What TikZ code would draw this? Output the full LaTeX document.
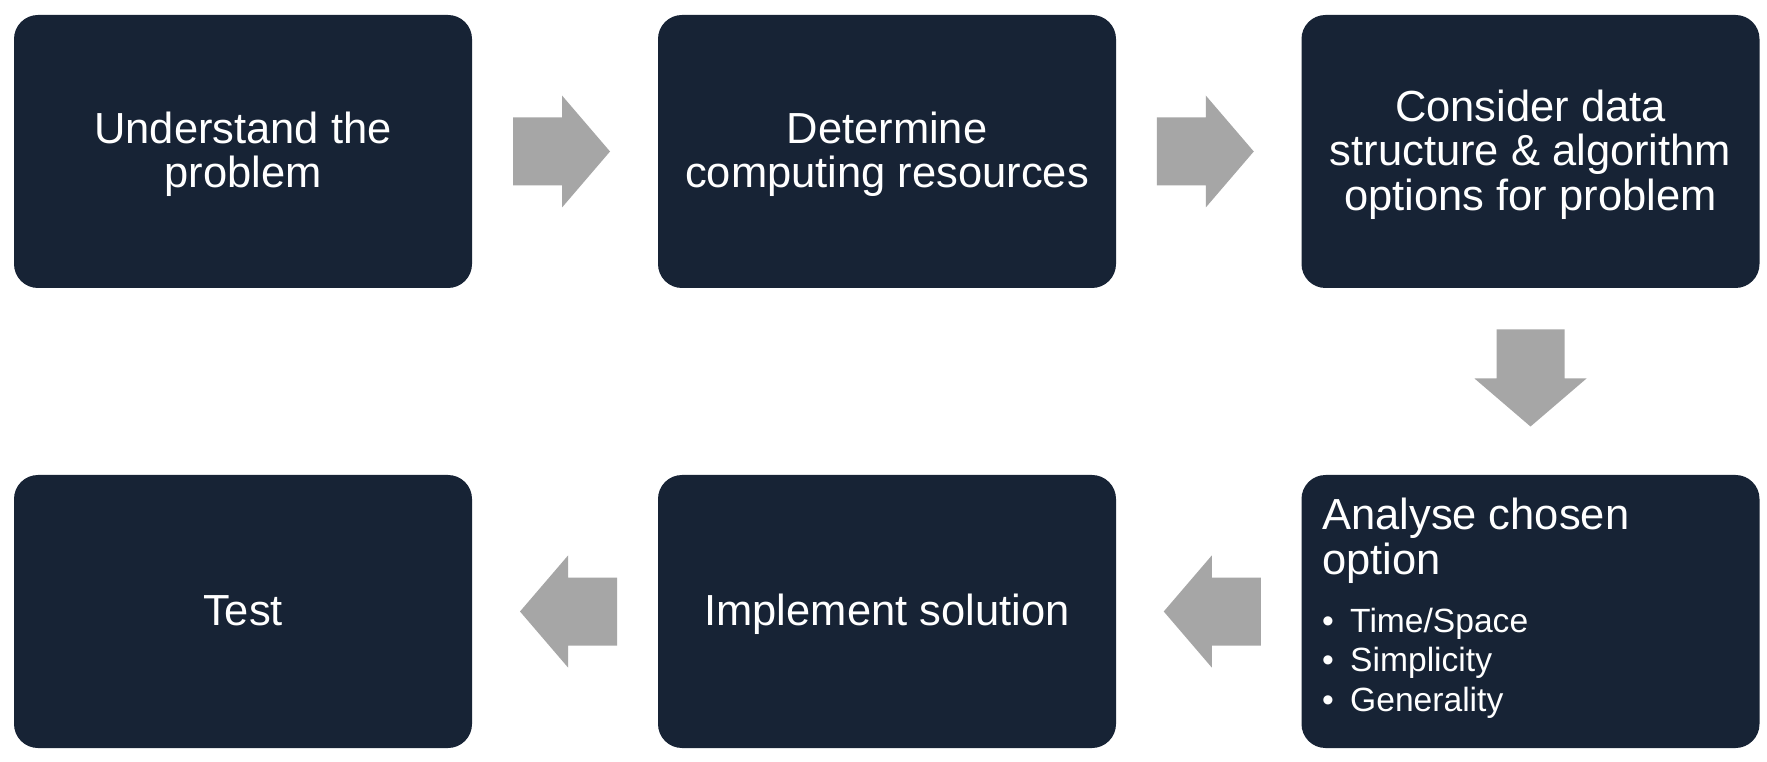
\documentclass[tikz,border=0pt]{standalone}
\usepackage{fontspec}
\setmainfont{Liberation Sans}
\usetikzlibrary{calc}
\definecolor{boxnavy}{HTML}{172335}
\definecolor{arrowgray}{HTML}{A6A6A6}
\newcommand\boxfont{\fontsize{43.5}{44.5}\selectfont}
\newcommand\bulletfont{\fontsize{33.6}{39}\selectfont}
\tikzset{
  stepbox/.style={fill=boxnavy, rounded corners=24pt, minimum width=458pt,
    minimum height=273pt, inner sep=0pt},
  boxtext/.style={text=white, inner sep=0pt, align=center, font=\boxfont, yshift=-3pt},
  linetext/.style={text=white, inner sep=0pt, anchor=base west, font=\boxfont},
  subtext/.style={text=white, inner sep=0pt, anchor=base west, font=\bulletfont},
  dottext/.style={text=white, inner sep=0pt, anchor=base, font=\bulletfont},
  blockarrow/.pic={\fill[arrowgray] (-52,-34) -- (-3,-34) -- (-3,-56) -- (45,0)
    -- (-3,56) -- (-3,34) -- (-52,34) -- cycle;},
}
\begin{document}
\begin{tikzpicture}[x=1pt,y=1pt]
\fill[white] (0,0) rectangle (1767,761);
\useasboundingbox (0,0) rectangle (1767,761);

\node[stepbox, label={[boxtext]center:Understand the\\problem}] (b1) at (243,609.5) {};
\node[stepbox, label={[boxtext]center:Determine\\computing resources}] (b2) at (887,609.5) {};
\node[stepbox, label={[boxtext]center:Consider data\\structure \& algorithm\\options for problem}] (b3) at (1530.5,609.5) {};
\node[stepbox] (b5) at (1530.5,149.5) {};
\node[stepbox, label={[boxtext]center:Implement solution}] (b4) at (887,149.5) {};
\node[stepbox, label={[boxtext, yshift=3.5pt]center:Test}] (b6) at (243,149.5) {};

\node[linetext] (a1) at (1322,231) {Analyse chosen};
\node[linetext] (a2) at (1322,186) {option};
\node[dottext] (d1) at (1328,129) {•};
\node[subtext] (s1) at (1350,129) {Time/Space};
\node[dottext] (d2) at (1328,90) {•};
\node[subtext] (s2) at (1350,90) {Simplicity};
\node[dottext] (d3) at (1328,50) {•};
\node[subtext] (s3) at (1350,50) {Generality};

\pic at ($(b1.east)!0.5!(b2.west)$) {blockarrow};
\pic at ($(b2.east)!0.5!(b3.west)$) {blockarrow};
\pic[rotate=-90] at ($(b3.south)!0.5!(b5.north)$) {blockarrow};
\pic[rotate=180] at ($(b5.west)!0.5!(b4.east)$) {blockarrow};
\pic[rotate=180] at ($(b4.west)!0.5!(b6.east)$) {blockarrow};
\end{tikzpicture}
\end{document}
